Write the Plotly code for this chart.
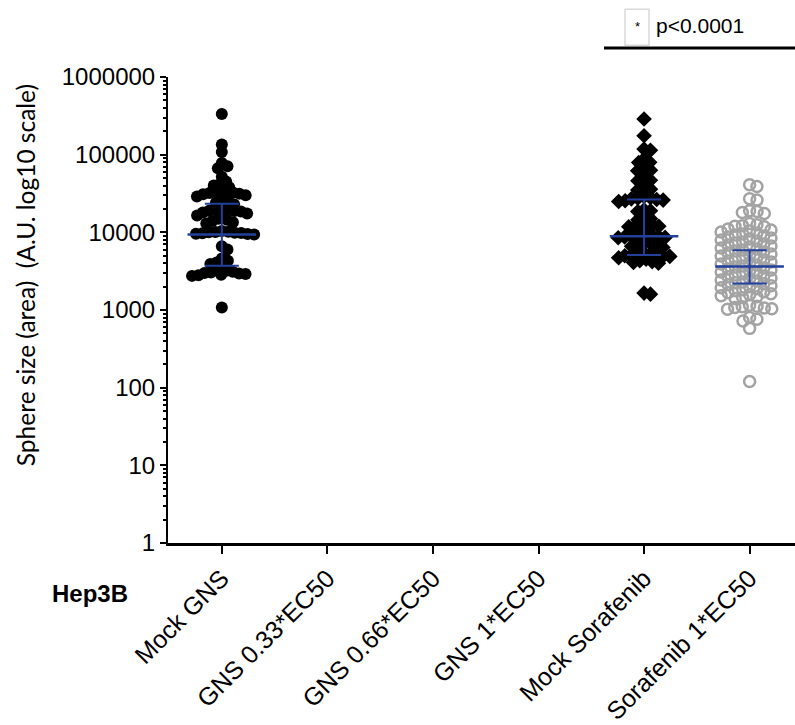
import numpy as np
import plotly.graph_objects as go

# ---- data -------------------------------------------------------------
categories = ["Mock GNS", "GNS 0.33*EC50", "GNS 0.66*EC50", "GNS 1*EC50",
              "Mock Sorafenib", "Sorafenib 1*EC50"]

mock_gns = [335000, 135000, 108000, 78000, 71000, 67000, 52000, 45000, 42000,
            40000, 38000, 35000,
            33000, 32500, 32000, 31500, 31000, 30500, 30000, 29000,
            26000, 25000, 24000, 23000,
            20500, 20000, 19500, 19000, 18800, 18500, 18000, 17500, 17000, 16500,
            15000, 14500, 14000, 13500, 13000,
            10400, 10200, 10100, 10000, 9900, 9800, 9700, 9600, 9500, 9400,
            6600, 6000,
            4600, 4300, 4100, 3900, 3700,
            3300, 3200, 3100, 3050, 3000, 2950, 2900, 2850, 2800, 2750,
            1080]

mock_sorafenib = [288000, 175000, 118000, 114000, 88000, 80000, 79000,
                  64000, 63000, 62000, 49000, 47000, 46000, 37000, 36000, 35000,
                  29000, 28000, 27500, 27000, 26500, 26000, 25500, 25000,
                  19500, 19000, 18500,
                  15500, 15000, 14500,
                  12800, 12500, 12200, 12000, 11800,
                  10800, 10500,
                  9300, 9100, 9000, 8900, 8800, 8700, 8600, 8500,
                  7400, 7200, 7000, 6800, 6600, 6400,
                  5400, 5300, 5200, 5100, 5050, 5000, 4950, 4900,
                  4700, 4500, 4300, 4200, 4100, 4000,
                  1650, 1600]

sorafenib_ec50 = [41000, 39000, 27000, 26000, 19000, 18500, 18000, 17500,
                  13000, 12500, 12200, 12000, 11800,
                  11000, 10700, 10400, 10100, 9780, 9500, 9220, 8950, 8690,
                  8440, 8190, 7950, 7720, 7500, 7280, 7070, 6860, 6660, 6470,
                  6280, 6100, 5920, 5750, 5580, 5420, 5260, 5110, 4960, 4820,
                  4680, 4540, 4410, 4280, 4160, 4040, 3920, 3800, 3690, 3590,
                  3480, 3380, 3280, 3190, 3090, 3000, 2920, 2830, 2750, 2670,
                  2590, 2520, 2440, 2370, 2300, 2240, 2170, 2110, 2050, 1990,
                  1930, 1880, 1820, 1770, 1720, 1670, 1620, 1570, 1530, 1480,
                  1440, 1400,
                  1150, 1120, 1100, 1080, 1060, 1040, 1020,
                  800, 760, 720,
                  580,
                  120]

# central value and error bar limits per plotted group
bar_groups = [0, 4, 5]
bar_center = [9400, 8900, 3640]
bar_upper = [23400, 26500, 5900]
bar_lower = [3700, 5100, 2200]

y_tick_vals = [1, 10, 100, 1000, 10000, 100000, 1000000]
y_tick_text = ["1", "10", "100", "1000", "10000", "100000", "1000000"]

# ---- geometry of the plotting area (pixels) ---------------------------
W, H = 795, 725
L, R, T, B = 168, 0, 77, 180
X_RANGE = [-0.51, 5.43]
PX_PER_CAT = (W - L - R) / (X_RANGE[1] - X_RANGE[0])
PX_PER_DEC = (H - T - B) / 6.0


def swarm(values, diameter):
    """Beeswarm offsets (in category units) so markers do not collide."""
    ys = np.log10(np.asarray(values, dtype=float)) * PX_PER_DEC
    order = np.argsort(-ys, kind="stable")
    xs = np.zeros(len(ys))
    placed = []
    for i in order:
        y = ys[i]
        near = [(xj, yj) for xj, yj in placed if abs(y - yj) < diameter]
        cands = [0.0]
        for xj, yj in near:
            dx = np.sqrt(diameter ** 2 - (y - yj) ** 2)
            cands += [xj + dx, xj - dx]
        best = None
        for c in sorted(cands, key=lambda v: (abs(v), -v)):
            if all((c - xj) ** 2 + (y - yj) ** 2 >= diameter ** 2 - 1e-6
                   for xj, yj in near):
                best = c
                break
        xs[i] = best
        placed.append((best, y))
    return xs / PX_PER_CAT


def paper_x(px):
    return (px - L) / (W - L - R)


def paper_y(py):
    return (H - B - py) / (H - T - B)


fig = go.Figure()

fig.add_trace(go.Scatter(
    x=0 + swarm(mock_gns, 6.5), y=mock_gns, mode="markers",
    marker=dict(symbol="circle", size=12, color="black"),
    hoverinfo="y", showlegend=False))

fig.add_trace(go.Scatter(
    x=4 + swarm(mock_sorafenib, 6.5), y=mock_sorafenib, mode="markers",
    marker=dict(symbol="diamond", size=12, color="black"),
    hoverinfo="y", showlegend=False))

fig.add_trace(go.Scatter(
    x=5 + swarm(sorafenib_ec50, 7.5), y=sorafenib_ec50, mode="markers",
    marker=dict(symbol="circle-open", size=11, color="#a3a3a3",
                line=dict(width=2.5, color="#a3a3a3")),
    hoverinfo="y", showlegend=False))

# central line with error bars (line-ew glyph length is 1.4 x marker size)
blue = "#22409c"
fig.add_trace(go.Scatter(
    x=bar_groups, y=bar_center, mode="markers",
    marker=dict(symbol="line-ew", size=49, color=blue,
                line=dict(width=2.5, color=blue)),
    error_y=dict(type="data", symmetric=False,
                 array=[u - c for u, c in zip(bar_upper, bar_center)],
                 arrayminus=[c - lo for c, lo in zip(bar_center, bar_lower)],
                 color=blue, thickness=2, width=17),
    hoverinfo="skip", showlegend=False))

fig.update_layout(
    width=W, height=H,
    margin=dict(l=L, r=R, t=T, b=B, pad=0),
    paper_bgcolor="white", plot_bgcolor="white",
    font=dict(family="Liberation Sans, Arial, sans-serif", color="black"),
    xaxis=dict(range=X_RANGE, tickvals=list(range(len(categories))),
               ticktext=categories, tickangle=-45,
               tickfont=dict(size=25, color="black"),
               showgrid=False, zeroline=False,
               showline=True, linecolor="black", linewidth=2.5,
               ticks="outside", ticklen=8, tickwidth=2, tickcolor="black"),
    yaxis=dict(type="log", range=[0, 6], tickvals=y_tick_vals,
               ticktext=y_tick_text, tickfont=dict(size=24, color="black"),
               showgrid=False, zeroline=False,
               showline=True, linecolor="black", linewidth=2,
               ticks="outside", ticklen=6, tickwidth=2, tickcolor="black",
               minor=dict(ticks="outside", ticklen=3, tickwidth=1.5,
                          tickcolor="black",
                          tickvals=[m * 10 ** e for e in range(6)
                                    for m in range(2, 10)])),
)

fig.add_annotation(
    text="Sphere size (area)\u00a0\u00a0(A.U. log10 scale)",
    xref="paper", yref="paper", x=paper_x(25), y=paper_y(276),
    xanchor="center", yanchor="middle",
    textangle=-90, showarrow=False,
    font=dict(family="Lato, Open Sans, sans-serif", size=24.5, color="black"))

fig.add_annotation(
    text="<b>Hep3B</b>", xref="paper", yref="paper",
    x=paper_x(90), y=paper_y(596), xanchor="center", yanchor="middle",
    showarrow=False, font=dict(size=24, color="black"))

fig.add_annotation(
    text="p<0.0001", xref="paper", yref="paper",
    x=paper_x(654), y=paper_y(25), xanchor="left", yanchor="middle",
    showarrow=False, font=dict(size=21, color="black"))

fig.add_annotation(
    text="*", xref="paper", yref="paper",
    x=paper_x(637), y=paper_y(26), xanchor="center", yanchor="middle",
    showarrow=False, font=dict(size=13, color="black"))

fig.add_shape(type="rect", xref="paper", yref="paper",
              x0=paper_x(625), x1=paper_x(649), y0=paper_y(45), y1=paper_y(9),
              line=dict(color="#d9d9d9", width=1.5))

fig.add_shape(type="line", xref="paper", yref="paper",
              x0=paper_x(604), x1=paper_x(795), y0=paper_y(48), y1=paper_y(48),
              line=dict(color="black", width=3))

fig.write_html("out.html")
